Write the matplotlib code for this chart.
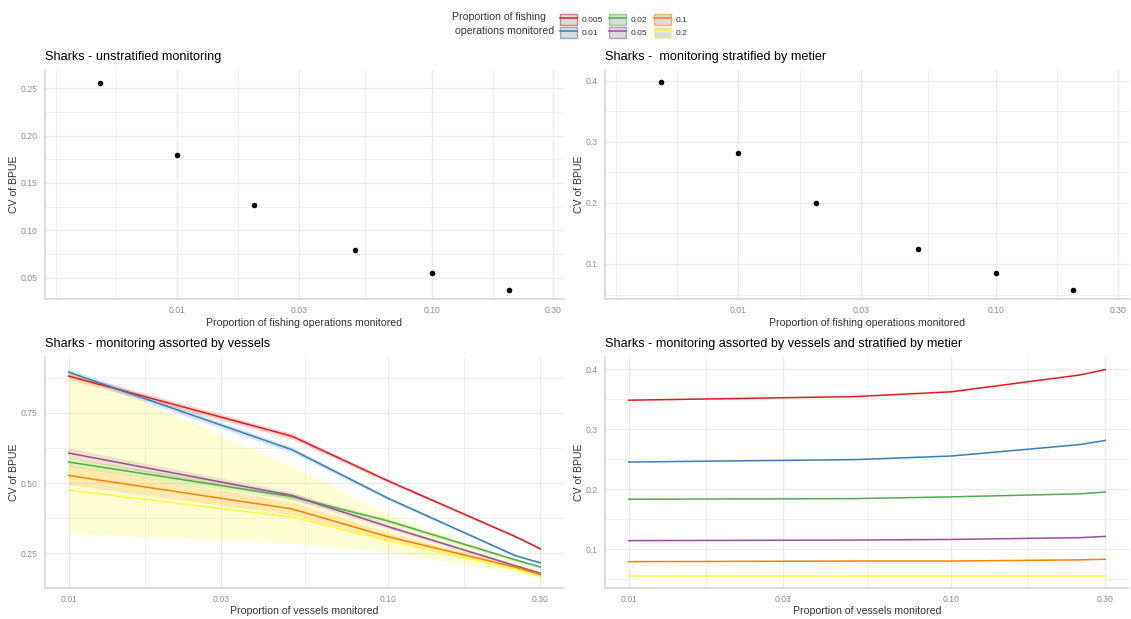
import numpy as np
import matplotlib
matplotlib.use("Agg")
import matplotlib.pyplot as plt
from matplotlib.patches import Patch
from matplotlib.lines import Line2D
from matplotlib.ticker import FixedLocator, FixedFormatter, NullLocator

plt.rcParams['font.family'] = ['Liberation Sans', 'DejaVu Sans']

# ---- data -------------------------------------------------------------
ops_prop = [0.005, 0.01, 0.02, 0.05, 0.1, 0.2]
cv_unstratified = [0.255, 0.180, 0.127, 0.079, 0.055, 0.037]
cv_metier = [0.398, 0.282, 0.199, 0.124, 0.086, 0.058]

vessel_prop = [0.01, 0.05, 0.1, 0.25, 0.3]
group_labels = ['0.005', '0.01', '0.02', '0.05', '0.1', '0.2']
group_colors = ['#E41A1C', '#377EB8', '#4DAF4A', '#984EA3', '#FF7F00', '#FFFF33']

# vessel-based monitoring: mean CV and uncertainty band per group
vessel_cv = {
    '0.005': [0.881, 0.667, 0.508, 0.310, 0.266],
    '0.01':  [0.895, 0.619, 0.446, 0.242, 0.216],
    '0.02':  [0.575, 0.452, 0.365, 0.227, 0.201],
    '0.05':  [0.607, 0.456, 0.345, 0.206, 0.179],
    '0.1':   [0.527, 0.408, 0.309, 0.201, 0.173],
    '0.2':   [0.475, 0.379, 0.295, 0.194, 0.167],
}
vessel_lo = {
    '0.005': [0.869, 0.657, 0.502, 0.306, 0.263],
    '0.01':  [0.883, 0.609, 0.440, 0.238, 0.213],
    '0.02':  [0.560, 0.440, 0.357, 0.222, 0.197],
    '0.05':  [0.589, 0.444, 0.337, 0.201, 0.175],
    '0.1':   [0.494, 0.387, 0.294, 0.195, 0.168],
    '0.2':   [0.321, 0.286, 0.256, 0.180, 0.160],
}
vessel_hi = {
    '0.005': [0.893, 0.677, 0.514, 0.314, 0.269],
    '0.01':  [0.907, 0.629, 0.452, 0.246, 0.219],
    '0.02':  [0.590, 0.464, 0.373, 0.232, 0.205],
    '0.05':  [0.625, 0.468, 0.353, 0.211, 0.183],
    '0.1':   [0.565, 0.434, 0.324, 0.207, 0.178],
    '0.2':   [0.905, 0.560, 0.390, 0.228, 0.190],
}

# vessel-based monitoring stratified by metier
vessel_metier_cv = {
    '0.005': [0.348, 0.354, 0.362, 0.390, 0.399],
    '0.01':  [0.245, 0.249, 0.255, 0.274, 0.281],
    '0.02':  [0.183, 0.184, 0.187, 0.192, 0.195],
    '0.05':  [0.114, 0.115, 0.116, 0.119, 0.121],
    '0.1':   [0.079, 0.080, 0.080, 0.082, 0.083],
    '0.2':   [0.0556, 0.0556, 0.0556, 0.0556, 0.0556],
}

x_tick_vals = [0.01, 0.03, 0.1, 0.3]
x_tick_text = ['0.01', '0.03', '0.10', '0.30']

# ---- styling helpers --------------------------------------------------
W, H = 1131, 619
fig = plt.figure(figsize=(W / 100, H / 100), dpi=100)
fig.patch.set_facecolor('white')

GRID_MAJOR = '#EBEBEB'
TICK_COL = '#8C8C8C'
AXLINE = '#D9D9D9'


def px_axes(x0, y0, x1, y1):
    return fig.add_axes([x0 / W, 1 - y1 / H, (x1 - x0) / W, (y1 - y0) / H])


def log_minor(majors, lo, hi):
    lm = np.log10(majors)
    step = lm[1] - lm[0]
    ext = np.concatenate([[lm[0] - step], lm, [lm[-1] + step]])
    mids = (ext[:-1] + ext[1:]) / 2
    vals = 10 ** np.concatenate([ext, mids])
    return [v for v in vals if lo <= v <= hi and not np.any(np.isclose(v, majors))]


def style(ax, title, xlabel, xlim, ylim, yticks, ylabels, yminor):
    ax.set_xscale('log')
    ax.set_xlim(*xlim)
    ax.set_ylim(*ylim)
    ax.xaxis.set_major_locator(FixedLocator(x_tick_vals))
    ax.xaxis.set_major_formatter(FixedFormatter(x_tick_text))
    ax.xaxis.set_minor_locator(NullLocator())
    ax.yaxis.set_major_locator(FixedLocator(yticks))
    ax.yaxis.set_major_formatter(FixedFormatter(ylabels))
    for v in log_minor(x_tick_vals, *xlim):
        ax.axvline(v, color=GRID_MAJOR, lw=0.5, zorder=0)
    for v in yminor:
        ax.axhline(v, color=GRID_MAJOR, lw=0.5, zorder=0)
    ax.grid(True, which='major', color=GRID_MAJOR, lw=0.9, zorder=0)
    ax.set_axisbelow(True)
    for s in ['top', 'right']:
        ax.spines[s].set_visible(False)
    for s in ['left', 'bottom']:
        ax.spines[s].set_color(AXLINE)
        ax.spines[s].set_linewidth(1.2)
    ax.tick_params(length=0, labelsize=6.2, labelcolor=TICK_COL)
    ax.tick_params(axis='y', pad=5.2)
    ax.tick_params(axis='x', pad=5.0)
    ax.set_title(title, loc='left', fontsize=9.1, pad=7, color='black')
    ax.set_xlabel(xlabel, fontsize=7.6, color='#333333', labelpad=2)
    ax.set_ylabel('CV of BPUE', fontsize=7.6, color='#333333', labelpad=1.5)


ops_xlim = (10 ** -2.5186, 10 ** -0.4814)
ves_xlim = (10 ** -2.0739, 10 ** -0.4490)

# top-left: unstratified monitoring
ax1 = px_axes(45, 70, 564, 299.3)
ax1.scatter(ops_prop, cv_unstratified, s=16, color='black', zorder=3, linewidths=0)
style(ax1, 'Sharks - unstratified monitoring', 'Proportion of fishing operations monitored',
      ops_xlim, (0.0275, 0.269), [0.05, 0.10, 0.15, 0.20, 0.25],
      ['0.05', '0.10', '0.15', '0.20', '0.25'], [0.075, 0.125, 0.175, 0.225])

# top-right: stratified by metier
ax2 = px_axes(605, 70, 1129, 299.3)
ax2.scatter(ops_prop, cv_metier, s=16, color='black', zorder=3, linewidths=0)
style(ax2, 'Sharks -  monitoring stratified by metier', 'Proportion of fishing operations monitored',
      ops_xlim, (0.0422, 0.4175), [0.1, 0.2, 0.3, 0.4],
      ['0.1', '0.2', '0.3', '0.4'], [0.05, 0.15, 0.25, 0.35])

# bottom-left: vessel-based monitoring with uncertainty ribbons
ax3 = px_axes(45, 356.7, 564, 587.7)
for lab, col in zip(group_labels, group_colors):
    ax3.fill_between(vessel_prop, vessel_lo[lab], vessel_hi[lab], color=col,
                     alpha=0.2, linewidth=0, zorder=1)
for lab, col in zip(group_labels, group_colors):
    ax3.plot(vessel_prop, vessel_cv[lab], color=col, lw=1.1, zorder=2)
style(ax3, 'Sharks - monitoring assorted by vessels', 'Proportion of vessels monitored',
      ves_xlim, (0.1275, 0.95), [0.25, 0.50, 0.75],
      ['0.25', '0.50', '0.75'], [0.375, 0.625, 0.875])

# bottom-right: vessel-based monitoring stratified by metier
ax4 = px_axes(605, 356.7, 1129, 587.7)
for lab, col in zip(group_labels, group_colors):
    ax4.plot(vessel_prop, vessel_metier_cv[lab], color=col, lw=1.1, zorder=2)
style(ax4, 'Sharks - monitoring assorted by vessels and stratified by metier',
      'Proportion of vessels monitored',
      ves_xlim, (0.0356, 0.4205), [0.1, 0.2, 0.3, 0.4],
      ['0.1', '0.2', '0.3', '0.4'], [0.05, 0.15, 0.25, 0.35])

# shared legend at the top
handles = []
for col in group_colors:
    handles.append((Patch(facecolor='#DCDCDC', edgecolor=matplotlib.colors.to_rgba(col, 0.55), lw=1.0),
                    Line2D([], [], color=col, lw=1.1)))
leg = fig.legend(handles, group_labels, ncol=3, loc='center left',
                 bbox_to_anchor=(558 / W, 1 - 26 / H), frameon=False,
                 fontsize=6.1, handlelength=2.0, handleheight=1.5,
                 labelspacing=0.35, columnspacing=0.75, handletextpad=0.55,
                 borderpad=0.2, borderaxespad=0)
for t in leg.get_texts():
    t.set_color('#333333')
fig.text(452 / W, 1 - 24.5 / H, 'Proportion of fishing\n operations monitored',
         fontsize=7.6, color='#333333', ha='left', va='center', linespacing=1.5)

fig.savefig('out.png', dpi=100, facecolor='white')
